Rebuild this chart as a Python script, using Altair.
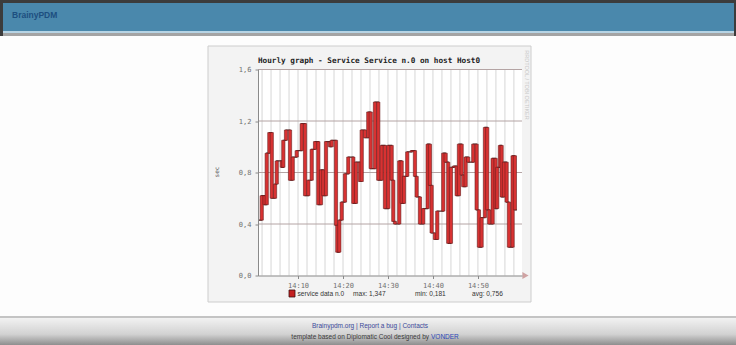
import altair as alt
import pandas as pd

# ---------------- data ----------------
# start of each step, minutes after 14:00
T_MIN = [1.1, 1.93, 2.56, 3.04, 3.62, 4.16, 4.89, 5.27, 6.38, 6.73,
         7.33, 8.22, 8.82, 9.71, 10.82, 11.56, 12.29, 13.04, 13.78, 14.51,
         15.11, 15.62, 16.22, 17.11, 17.49, 18.44, 18.73, 19.18, 19.71, 20.44,
         21.18, 22.29, 22.89, 23.78, 24.16, 24.89, 25.62, 26.16, 27.11, 27.84,
         28.6, 29.33, 30.07, 30.82, 31.18, 31.56, 32.51, 33.04, 33.56, 34.29,
         35.27, 36.0, 36.38, 37.11, 37.84, 38.82, 39.33, 39.71, 40.44, 40.96,
         42.29, 42.82, 43.4, 44.0, 44.67, 45.27, 45.78, 46.38, 46.73, 47.27,
         47.84, 48.96, 49.71, 50.22, 50.82, 51.56, 52.07, 52.51, 53.27, 53.93,
         54.29, 54.89, 55.27, 55.78, 56.38, 56.89, 57.71, 58.22]
VALUES = [0.43, 0.62, 0.55, 0.95, 1.11, 0.60, 0.71, 0.89, 0.84, 1.05,
          1.13, 0.74, 0.92, 0.97, 1.18, 0.62, 0.74, 0.98, 1.04, 0.55,
          0.82, 0.62, 1.04, 1.00, 1.05, 0.39, 0.181, 0.43, 0.57, 0.79,
          0.92, 0.56, 0.88, 0.73, 1.13, 1.07, 1.27, 0.83, 1.347, 0.74,
          1.01, 0.52, 1.01, 0.74, 0.42, 0.40, 0.89, 0.56, 0.77, 0.96,
          0.97, 0.77, 0.61, 0.40, 0.52, 1.02, 0.70, 0.33, 0.28, 0.50,
          0.95, 0.88, 0.25, 0.84, 0.85, 0.62, 1.02, 0.78, 0.69, 0.92,
          0.88, 1.02, 0.51, 0.22, 0.45, 1.15, 0.51, 0.40, 0.91, 0.52,
          0.84, 1.01, 0.61, 0.88, 0.57, 0.22, 0.93, 0.51]
END_T = 58.67
X_DOMAIN = [1.1, 59.8]
Y_DOMAIN = [0.0, 1.6]
Y_TICKS = [0.0, 0.4, 0.8, 1.2, 1.6]
Y_GRID = [0.4, 0.8, 1.2, 1.6]
X_TICKS = [10, 20, 30, 40, 50]
X_GRID = [2, 4, 6, 8, 10, 12, 14, 16, 18, 20, 22, 24, 26, 28, 30,
          32, 34, 36, 38, 40, 42, 44, 46, 48, 50, 52, 54, 56, 58]
TITLE = "Hourly graph - Service Service n.0 on host Host0"
Y_TITLE = "sec"
LEGEND_NAME = "service data n.0"
STATS = ["max: 1,347", "min: 0,181", "avg: 0,756"]
HEADER = "BrainyPDM"
FOOT1 = "Brainypdm.org | Report a bug | Contacts"
FOOT2 = "template based on Diplomatic Cool designed by"
FOOT2_LINK = "VONDER"
WATERMARK = "RRDTOOL / TOBI OETIKER"

# ---------------- layout ----------------
PAGE_W, PAGE_H = 736, 345
OX, OY = 258, 69.5
W, H = 264, 206
MONO = "DejaVu Sans Mono"
SANS = "Liberation Sans"

xs = alt.Scale(domain=X_DOMAIN, nice=False, zero=False)
ys = alt.Scale(domain=Y_DOMAIN, nice=False)

steps = pd.DataFrame({"t": T_MIN + [END_T], "v": VALUES + [VALUES[-1]]})
trans = pd.DataFrame({"t": T_MIN[1:], "v0": VALUES[:-1], "v1": VALUES[1:]})
one = pd.DataFrame({"a": [0]})


def rect(x1, y1, x2, y2, **kw):
    return alt.Chart(one).mark_rect(**kw).encode(
        x=alt.value(x1 - OX), x2=alt.value(x2 - OX),
        y=alt.value(y1 - OY), y2=alt.value(y2 - OY))


def text(s, x, y, **kw):
    return alt.Chart(one).mark_text(text=s, **kw).encode(
        x=alt.value(x - OX), y=alt.value(y - OY))


layers = []
# page frame and header
layers.append(rect(0, 0, PAGE_W, PAGE_H, fill="#fdfdfd"))
layers.append(rect(0, 0, PAGE_W, 36, fill="#3c3c3c"))
layers.append(rect(3, 3, PAGE_W - 2, 31, fill="#4a88ac"))
layers.append(rect(3, 31, PAGE_W - 2, 33, fill="#b7d4e4"))
layers.append(rect(3, 33, PAGE_W - 2, 36, fill="#a4a4a4"))
layers.append(text(HEADER, 12, 14.5, font=SANS, fontSize=8.5, fontWeight="bold",
                   color="#1d4f80", align="left", baseline="middle"))
# footer
layers.append(rect(0, 316, PAGE_W, 318, fill="#c4c4c4"))
layers.append(rect(0, 318, PAGE_W, PAGE_H, fill=alt.LinearGradient(
    gradient="linear", x1=0, x2=0, y1=0, y2=1,
    stops=[alt.GradientStop(color="#f2f2f2", offset=0),
           alt.GradientStop(color="#d2d2d2", offset=0.6),
           alt.GradientStop(color="#8e8e8e", offset=1)])))
layers.append(text(FOOT1, 370, 326, font=SANS, fontSize=6.5, color="#3c4a9a",
                   align="center", baseline="middle"))
layers.append(text(FOOT2, 429, 336.5, font=SANS, fontSize=6.5, color="#3a3a3a",
                   align="right", baseline="middle"))
layers.append(text(FOOT2_LINK, 431, 336.5, font=SANS, fontSize=6.5, color="#2c48b8",
                   align="left", baseline="middle"))
# graph canvas
layers.append(rect(208, 46, 531, 302, fill="#f3f3f3", stroke="#cdcdcd", strokeWidth=1))
layers.append(rect(OX, OY, OX + W, OY + H, fill="#ffffff"))

# grid
layers.append(alt.Chart(pd.DataFrame({"g": X_GRID})).mark_rule(
    color="#d6d6d6", strokeWidth=1).encode(x=alt.X("g:Q", scale=xs)))
layers.append(alt.Chart(pd.DataFrame({"g": Y_GRID})).mark_rule(
    color="#b4a4a4", strokeWidth=1).encode(y=alt.Y("g:Q", scale=ys)))

axis_common = dict(title=None, grid=False, zindex=1, domainColor="#8a8a8a",
                   tickColor="#8a8a8a", tickSize=3, labelFont=MONO,
                   labelFontSize=7, labelColor="#707070")

# the series: step line + transition bars
layers.append(alt.Chart(steps).mark_line(
    interpolate="step-after", color="#4d2626", strokeWidth=1.2).encode(
    x=alt.X("t:Q", scale=xs, axis=alt.Axis(
        values=X_TICKS, labelExpr="'14:' + datum.value", labelPadding=3,
        **axis_common)),
    y=alt.Y("v:Q", scale=ys, axis=alt.Axis(
        values=Y_TICKS, labelExpr="replace(format(datum.value, '.1f'), '.', ',')",
        labelPadding=4, **axis_common))))
layers.append(alt.Chart(trans).mark_rect(
    fill="#d83232", stroke="#6a1e1e", strokeWidth=0.6).transform_calculate(
    ta="datum.t - 0.36", tb="datum.t + 0.36").encode(
    x=alt.X("ta:Q", scale=xs), x2="tb:Q",
    y=alt.Y("v0:Q", scale=ys), y2="v1:Q"))

# axis arrow
layers.append(alt.Chart(one).mark_point(shape="triangle-right", size=14, filled=False,
                                        color="#c08080").encode(
    x=alt.value(W + 3), y=alt.value(H)))

# texts in the graph canvas
layers.append(text(TITLE, 369, 60.5, font=MONO, fontSize=7.7, fontWeight="bold",
                   color="#222222", align="center", baseline="middle"))
layers.append(text(Y_TITLE, 217, 172, font=MONO, fontSize=6, color="#555555",
                   angle=270, align="center", baseline="middle"))
layers.append(text(WATERMARK, 527, 85, font=SANS, fontSize=5.5, color="#c8c8c8",
                   angle=90, align="center", baseline="middle"))
# legend
layers.append(rect(289, 290, 295, 297, fill="#c42020", stroke="#3c1010", strokeWidth=0.8))
layers.append(text(LEGEND_NAME, 297.5, 294, font=SANS, fontSize=6.6, color="#333333",
                   align="left", baseline="middle"))
for s, xpos in zip(STATS, [353, 415, 472]):
    layers.append(text(s, xpos, 294, font=SANS, fontSize=6.6, color="#333333",
                       align="left", baseline="middle"))

chart = alt.layer(*layers).properties(
    width=W, height=H, autosize="none",
    padding={"left": OX, "top": OY, "right": PAGE_W - OX - W,
             "bottom": PAGE_H - OY - H},
).configure_view(stroke=None).configure(background="#fdfdfd")

chart.save("out.html", embed_options={"renderer": "svg", "actions": False})
